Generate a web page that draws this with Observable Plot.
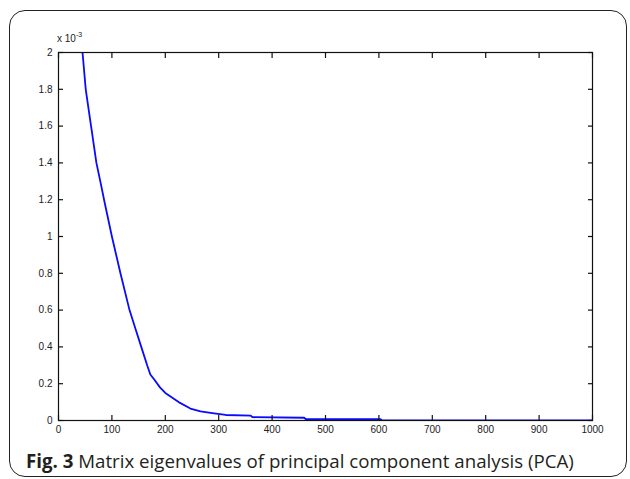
<!DOCTYPE html>
<html>
<head>
<meta charset="utf-8">
<script src="https://cdn.jsdelivr.net/npm/d3@7"></script>
<script src="https://cdn.jsdelivr.net/npm/@observablehq/plot@0.6"></script>
<style>
  html, body { margin: 0; padding: 0; background: #fff; }
  #wrap { position: relative; width: 630px; height: 479px; overflow: hidden; }
  #box { position: absolute; left: 9px; top: 10px; width: 616px; height: 465px; border: 1.5px solid #222; border-radius: 16px; }
  #chart { position: absolute; left: 0; top: 0; }
  #exp { position: absolute; left: 57px; top: 33px; font: 10px "Liberation Sans", Arial, sans-serif; color: #222; }
  #exp sup { font-size: 7px; position: relative; top: -2px; vertical-align: top; }
  #caption { position: absolute; left: 26px; top: 448px; font: 18.7px "Open Sans", sans-serif; color: #231f20; white-space: nowrap; }
  #caption b { font-weight: 700; }
</style>
</head>
<body>
<div id="wrap">
  <div id="box"></div>
  <div id="chart"></div>
  <div id="exp">x 10<sup>-3</sup></div>
  <div id="caption"><b>Fig. 3</b> Matrix eigenvalues of principal component analysis (PCA)</div>
</div>
<script>
// Eigenvalue index and eigenvalue (in units of 10^-3)
const idx = [45, 51, 61, 71, 79, 86, 100, 116, 133, 145, 155, 166, 172, 180, 190, 200, 225, 247, 266, 288, 313, 360, 363, 460, 463, 603, 606, 1000];
const eig = [2.00, 1.80, 1.60, 1.40, 1.29, 1.19, 1.00, 0.80, 0.60, 0.49, 0.40, 0.30, 0.25, 0.22, 0.18, 0.15, 0.10, 0.065, 0.05, 0.04, 0.03, 0.027, 0.018, 0.015, 0.007, 0.007, 0.0, 0.0];
const xTicks = [0, 100, 200, 300, 400, 500, 600, 700, 800, 900, 1000];
const yTicks = [0, 0.2, 0.4, 0.6, 0.8, 1, 1.2, 1.4, 1.6, 1.8, 2];
const yTickLabels = ["0", "0.2", "0.4", "0.6", "0.8", "1", "1.2", "1.4", "1.6", "1.8", "2"];

const data = idx.map((x, i) => ({x, y: eig[i]}));
const font = "Liberation Sans, Arial, sans-serif";

const plot = Plot.plot({
  width: 630,
  height: 445,
  marginLeft: 58,
  marginRight: 38,
  marginTop: 52,
  marginBottom: 25,
  style: {fontFamily: font, fontSize: "10px", color: "#222", background: "transparent", overflow: "visible"},
  x: {domain: [0, 1000]},
  y: {domain: [0, 2]},
  marks: [
    Plot.line(data, {x: "x", y: "y", stroke: "#0a0aff", strokeWidth: 1.8, clip: true}),
    Plot.frame({stroke: "#111", strokeWidth: 1.2}),
    // inward ticks on four sides
    Plot.axisX(xTicks, {anchor: "bottom", tickSize: -5, fill: "none", stroke: "#111", strokeWidth: 1.2, label: null}),
    Plot.axisX(xTicks, {anchor: "top", tickSize: -5, fill: "none", stroke: "#111", strokeWidth: 1.2, label: null}),
    Plot.axisY(yTicks, {anchor: "left", tickSize: -5, fill: "none", stroke: "#111", strokeWidth: 1.2, label: null}),
    Plot.axisY(yTicks, {anchor: "right", tickSize: -5, fill: "none", stroke: "#111", strokeWidth: 1.2, label: null}),
    // tick labels
    Plot.axisX(xTicks, {anchor: "bottom", tickSize: 0, tickPadding: 5, fill: "#222", label: null,
      tickFormat: (d) => String(d)}),
    Plot.axisY(yTicks, {anchor: "left", tickSize: 0, tickPadding: 6, fill: "#222", label: null,
      tickFormat: (d) => yTickLabels[yTicks.indexOf(d)]})
  ]
});
document.getElementById("chart").appendChild(plot);
</script>
</body>
</html>
